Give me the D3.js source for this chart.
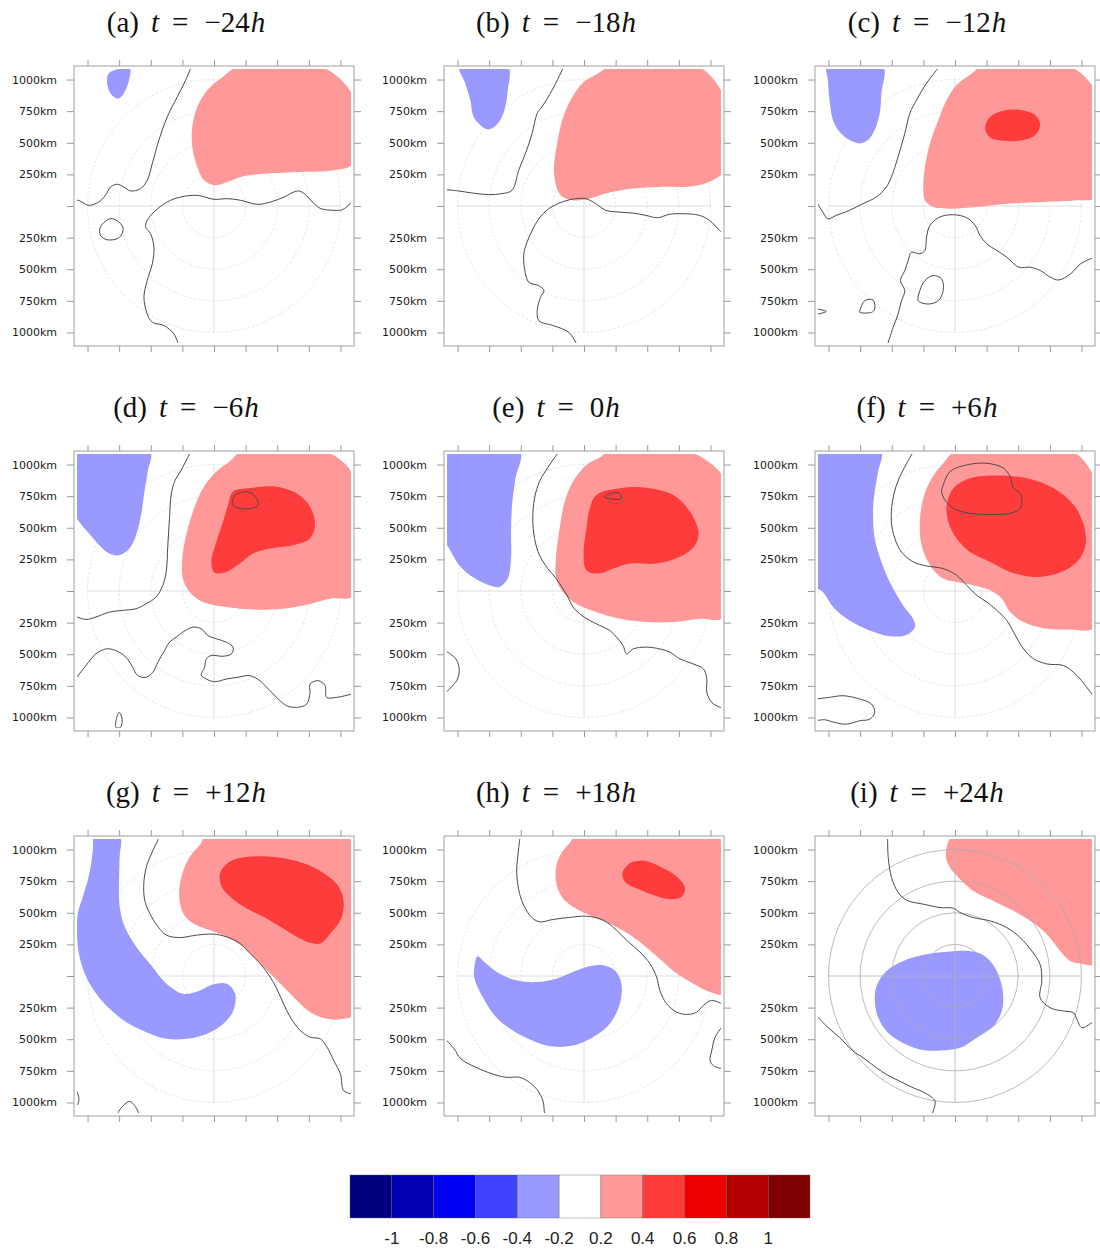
<!DOCTYPE html>
<html>
<head>
<meta charset="utf-8">
<script src="https://cdn.jsdelivr.net/npm/d3@7"></script>
<style>
body { margin: 0; background: #fff; }
svg { display: block; }
</style>
</head>
<body>
<div id="chart"></div>
<script>
// Tick values / rings (km from storm centre)
const tickKm = [-1000, -750, -500, -250, 0, 250, 500, 750, 1000];
const ringKm = [250, 500, 750, 1000];

// Panel labels and times
const letters = ['a', 'b', 'c', 'd', 'e', 'f', 'g', 'h', 'i'];
const times = ['\u221224', '\u221218', '\u221212', '\u22126', '0', '+6', '+12', '+18', '+24'];

// Colour bar
const legendBreaks = [-1, -0.8, -0.6, -0.4, -0.2, 0.2, 0.4, 0.6, 0.8, 1];
const legendColors = ['#00007f', '#0000b2', '#0000f2', '#4040ff', '#9999ff', '#ffffff',
    '#ff9999', '#ff3c3c', '#ee0000', '#b20000', '#7f0000'];

// ---- shapes, [x km, y km] ----
// (a)
const pinkA = [[211,1110],[832,1110],[1110,850],[1110,341],[950,282],[686,269],[422,256],[211,230],[106,190],[0,164],[-79,203],[-132,309],[-172,467],[-172,626],[-132,784],[-53,916],[53,1008]];
const blueA = [[-820,1060],[-740,1085],[-665,1085],[-672,995],[-700,916],[-740,858],[-766,850],[-818,890],[-845,969],[-840,1035]];
const linesA = [
    [[-180,1100],[-224,995],[-290,863],[-370,705],[-436,520],[-488,335],[-528,203],[-581,137],[-660,119],[-713,150],[-766,172],[-818,150],[-858,84],[-911,32],[-990,5],[-1060,40],[-1100,50]],
    [[-280,-1100],[-317,-1011],[-396,-945],[-488,-919],[-528,-853],[-554,-721],[-528,-589],[-488,-457],[-475,-325],[-502,-219],[-541,-166],[-528,-114],[-475,-48],[-370,32],[-264,71],[-132,84],[0,53],[106,58],[211,45],[343,13],[449,32],[554,71],[660,119],[713,98],[792,18],[845,-21],[950,-34],[1016,-29],[1082,24],[1100,40]]
];
const loopsA = [[[-898,-166],[-818,-100],[-752,-127],[-718,-180],[-752,-251],[-845,-267],[-898,-232]]];

// (b)
const pinkB = [[225,1110],[886,1110],[1058,957],[1110,838],[1110,283],[1018,204],[860,156],[595,151],[384,138],[172,98],[40,58],[-93,45],[-185,85],[-225,177],[-238,309],[-212,495],[-172,680],[-106,838],[-13,971],[93,1037]];
const blueB = [[-985,1110],[-605,1110],[-606,891],[-622,786],[-661,680],[-727,614],[-767,606],[-820,640],[-873,706],[-899,838],[-939,971]];
const linesB = [
    [[-160,1100],[-251,918],[-331,786],[-370,733],[-410,574],[-463,415],[-516,283],[-569,124],[-648,98],[-754,90],[-886,103],[-992,119],[-1100,130]],
    [[-55,-1100],[-119,-1000],[-238,-947],[-357,-907],[-370,-828],[-344,-722],[-317,-669],[-357,-630],[-436,-603],[-468,-510],[-476,-378],[-450,-286],[-410,-193],[-357,-101],[-278,-21],[-172,32],[-66,58],[13,58],[93,19],[172,-34],[278,-48],[384,-56],[489,-74],[582,-93],[674,-66],[780,-61],[913,-74],[992,-114],[1071,-193],[1100,-220]]
];

// (c)
const pinkC = [[225,1110],[886,1110],[1071,971],[1110,838],[1110,71],[965,45],[701,32],[436,19],[172,-8],[-40,-21],[-172,-8],[-238,45],[-251,151],[-238,309],[-198,495],[-132,680],[-66,838],[13,957],[119,1037]];
const deepC = [[238,614],[278,706],[384,754],[516,759],[635,719],[674,640],[635,561],[542,521],[384,516],[278,542]];
const blueC = [[-1010,1110],[-572,1110],[-582,891],[-595,733],[-635,600],[-688,521],[-754,495],[-833,521],[-913,587],[-965,680],[-992,838],[-1005,997]];
const linesC = [
    [[-125,1100],[-225,971],[-304,838],[-357,733],[-397,574],[-450,389],[-503,230],[-542,151],[-622,71],[-727,19],[-833,-34],[-939,-74],[-1005,-101],[-1045,-48],[-1100,40]],
    [[-535,-1100],[-489,-960],[-450,-854],[-423,-749],[-397,-669],[-431,-590],[-397,-510],[-370,-431],[-344,-365],[-278,-378],[-238,-352],[-225,-246],[-198,-153],[-119,-87],[-13,-69],[93,-93],[159,-153],[198,-233],[251,-299],[331,-352],[410,-405],[503,-484],[595,-484],[674,-510],[754,-563],[820,-585],[913,-537],[992,-458],[1071,-418],[1100,-410]],
    [[-1100,-812],[-1018,-834],[-1100,-858]]
];
const loopsC = [
    [[-278,-669],[-238,-590],[-172,-550],[-106,-577],[-93,-669],[-132,-749],[-212,-775],[-291,-749]],
    [[-754,-835],[-714,-749],[-648,-743],[-635,-815],[-661,-841],[-754,-841]]
];

// (d)
const pinkD = [[230,1110],[865,1110],[1077,957],[1110,838],[1110,-34],[918,-61],[706,-114],[495,-145],[283,-145],[98,-127],[-87,-87],[-193,-8],[-246,98],[-251,257],[-220,442],[-167,627],[-87,812],[19,944],[124,1024]];
const deepD = [[151,786],[309,817],[495,825],[653,772],[759,667],[799,521],[759,415],[627,362],[442,336],[309,296],[204,217],[98,151],[5,145],[-21,230],[19,389],[71,548],[111,680]];
const blueD = [[-1110,1110],[-508,1110],[-524,944],[-550,786],[-577,600],[-616,442],[-669,336],[-749,283],[-828,296],[-907,362],[-1000,468],[-1066,548],[-1110,627]];
const linesD = [
    [[-185,1100],[-259,957],[-312,865],[-339,759],[-352,574],[-365,362],[-378,151],[-405,45],[-458,-48],[-537,-101],[-616,-140],[-722,-153],[-828,-167],[-934,-206],[-1013,-225],[-1100,-198]],
    [[-1100,-700],[-1013,-590],[-934,-497],[-854,-458],[-775,-471],[-696,-524],[-643,-603],[-603,-669],[-537,-682],[-484,-643],[-444,-563],[-391,-471],[-352,-405],[-299,-365],[-246,-325],[-167,-286],[-101,-299],[-48,-352],[19,-378],[98,-405],[151,-444],[138,-497],[71,-516],[-21,-510],[-61,-537],[-74,-603],[-101,-664],[-61,-696],[5,-717],[98,-696],[190,-682],[283,-669],[362,-709],[442,-788],[508,-854],[574,-907],[653,-920],[733,-894],[759,-801],[759,-735],[825,-709],[878,-749],[891,-841],[971,-841],[1100,-812]]
];
const loopsD = [
    [[151,733],[190,772],[283,780],[336,733],[349,680],[296,653],[204,653],[151,680]],
    [[-775,-1079],[-765,-987],[-749,-960],[-727,-1013],[-740,-1079]]
];

// (e)
const pinkE = [[204,1110],[812,1110],[1071,944],[1110,838],[1110,-206],[918,-220],[706,-246],[495,-246],[283,-220],[98,-167],[-61,-101],[-167,-8],[-220,98],[-220,283],[-193,495],[-153,706],[-87,865],[19,997],[124,1055]];
const deepE = [[98,759],[283,812],[495,817],[706,759],[838,627],[905,468],[878,362],[759,270],[574,217],[362,217],[230,177],[124,138],[19,164],[-3,309],[19,495],[45,653]];
const blueE = [[-1110,1110],[-508,1110],[-542,891],[-569,680],[-577,468],[-577,257],[-603,98],[-669,32],[-749,45],[-881,111],[-987,204],[-1066,336],[-1110,415]];
const linesE = [
    [[-200,1100],[-272,997],[-352,865],[-391,733],[-405,574],[-391,415],[-352,283],[-286,177],[-220,98],[-167,19],[-127,-48],[-87,-127],[-34,-180],[45,-233],[124,-272],[204,-312],[257,-365],[309,-431],[336,-497],[389,-458],[495,-444],[600,-458],[680,-484],[759,-537],[865,-577],[944,-616],[971,-696],[971,-801],[1010,-881],[1077,-920],[1100,-925]],
    [[-1100,-470],[-1013,-537],[-987,-616],[-1000,-696],[-1039,-749],[-1100,-810]]
];
const loopsE = [[[164,745],[220,775],[283,772],[296,733],[230,725]]];

// (f)
const pinkF = [[13,1110],[913,1110],[1071,957],[1110,838],[1110,-286],[913,-304],[701,-294],[542,-246],[436,-167],[370,-61],[278,5],[145,45],[13,71],[-93,98],[-198,204],[-264,362],[-278,548],[-251,733],[-185,891],[-93,1010]];
const deepF = [[-66,680],[-13,812],[119,891],[331,913],[569,891],[780,812],[939,680],[1018,521],[1032,362],[965,230],[807,138],[622,111],[436,151],[278,230],[119,309],[13,415],[-53,548]];
const blueF = [[-1110,1110],[-588,1110],[-608,944],[-635,786],[-648,627],[-635,415],[-582,230],[-503,45],[-410,-114],[-331,-220],[-317,-286],[-384,-347],[-516,-357],[-674,-312],[-833,-233],[-952,-140],[-1045,-8],[-1110,45]];
const linesF = [
    [[-330,1100],[-410,957],[-463,838],[-495,706],[-503,548],[-476,415],[-423,309],[-331,230],[-225,198],[-93,177],[13,124],[93,45],[172,-34],[251,-87],[331,-153],[410,-233],[463,-325],[542,-458],[622,-537],[727,-577],[860,-590],[965,-669],[1032,-749],[1100,-840]],
    [[-1100,-854],[-992,-841],[-886,-828],[-754,-854],[-661,-894],[-635,-960],[-674,-1013],[-754,-1026],[-860,-1053],[-952,-1039],[-1032,-1018],[-1100,-1026]]
];
const loopsF = [[[-93,838],[-40,944],[93,997],[251,1010],[384,971],[436,905],[463,812],[516,772],[529,719],[516,653],[436,614],[278,606],[119,614],[-13,653],[-79,719],[-106,786]]];

// (g)
const pinkG = [[-58,1110],[1026,1110],[1110,1037],[1110,944],[1110,-299],[1026,-339],[894,-339],[762,-286],[656,-193],[550,-87],[444,19],[339,124],[233,230],[101,309],[-32,362],[-164,415],[-243,495],[-275,627],[-257,786],[-190,944],[-111,1037]];
const deepG = [[48,812],[127,905],[286,944],[497,939],[709,891],[868,812],[987,706],[1026,574],[1000,442],[920,336],[841,257],[762,262],[656,309],[524,389],[391,468],[259,534],[127,627],[61,706]];
const blueG = [[-746,1110],[-746,944],[-751,759],[-746,548],[-706,389],[-614,230],[-508,98],[-376,-61],[-243,-140],[-111,-114],[-5,-66],[101,-61],[167,-140],[153,-272],[74,-378],[-58,-458],[-217,-497],[-376,-497],[-534,-444],[-693,-365],[-825,-259],[-931,-140],[-1010,-8],[-1063,151],[-1084,336],[-1077,495],[-1037,627],[-997,759],[-971,891],[-957,1010],[-944,1110]];
const linesG = [
    [[-430,1100],[-481,997],[-534,865],[-555,733],[-548,600],[-508,495],[-442,389],[-376,323],[-270,304],[-138,323],[-5,331],[101,309],[206,257],[286,177],[365,98],[444,-8],[497,-101],[550,-220],[603,-325],[682,-431],[762,-484],[841,-497],[894,-563],[947,-669],[1000,-775],[1026,-907],[1100,-934]],
    [[-772,-1100],[-719,-1026],[-667,-992],[-627,-1026],[-587,-1100]],
    [[-1100,-880],[-1069,-960],[-1077,-1013],[-1100,-1030]]
];

// (h)
const pinkH = [[-61,1110],[1077,1110],[1110,997],[1110,-140],[997,-127],[865,-61],[733,19],[627,111],[521,204],[389,309],[230,402],[71,468],[-87,548],[-167,614],[-220,733],[-220,865],[-180,971],[-114,1050]];
const deepH = [[304,812],[362,891],[468,913],[600,865],[733,786],[799,693],[772,627],[680,606],[548,640],[415,693],[323,746]];
const blueH = [[-841,156],[-775,98],[-669,19],[-537,-34],[-378,-48],[-220,-21],[-87,32],[45,77],[151,85],[243,45],[296,-61],[283,-220],[204,-378],[71,-484],[-87,-550],[-246,-558],[-405,-511],[-563,-431],[-696,-325],[-801,-167],[-868,-8],[-860,111]];
const linesH = [
    [[-505,1100],[-524,944],[-532,812],[-510,653],[-471,548],[-418,468],[-352,428],[-246,447],[-114,463],[19,473],[151,442],[257,362],[336,283],[442,190],[521,98],[574,-8],[600,-114],[653,-220],[733,-286],[812,-304],[891,-286],[944,-233],[1010,-193],[1100,-225]],
    [[1100,-390],[1037,-484],[1010,-590],[997,-669],[1023,-709],[1100,-735]],
    [[-1100,-495],[-1026,-577],[-973,-656],[-854,-722],[-722,-775],[-616,-801],[-510,-801],[-431,-841],[-365,-907],[-325,-987],[-312,-1100]]
];

// (i)
const pinkI = [[-13,1110],[1110,1110],[1110,98],[990,98],[911,119],[832,198],[726,330],[594,436],[462,515],[304,594],[145,673],[40,766],[-40,858],[-71,937],[-66,1016]];
const blueI = [[-620,-79],[-541,40],[-409,119],[-224,172],[-40,193],[145,193],[251,145],[330,40],[378,-119],[370,-277],[304,-396],[172,-488],[40,-568],[-119,-589],[-277,-581],[-436,-515],[-541,-436],[-607,-330],[-634,-198]];
const linesI = [
    [[-533,1100],[-528,937],[-502,779],[-449,660],[-383,599],[-251,568],[-119,541],[-13,536],[40,502],[145,462],[277,436],[409,383],[515,304],[607,198],[673,92],[686,-40],[673,-172],[752,-251],[858,-277],[937,-290],[964,-343],[1003,-409],[1082,-370],[1100,-362]],
    [[-1100,-310],[-1016,-396],[-911,-488],[-805,-594],[-726,-647],[-620,-726],[-541,-779],[-436,-832],[-330,-884],[-238,-924],[-158,-990],[-185,-1100]]
];

const panels = [
    { pink: [pinkA], deep: [], blue: [blueA], lines: linesA, loops: loopsA },
    { pink: [pinkB], deep: [], blue: [blueB], lines: linesB, loops: [] },
    { pink: [pinkC], deep: [deepC], blue: [blueC], lines: linesC, loops: loopsC },
    { pink: [pinkD], deep: [deepD], blue: [blueD], lines: linesD, loops: loopsD },
    { pink: [pinkE], deep: [deepE], blue: [blueE], lines: linesE, loops: loopsE },
    { pink: [pinkF], deep: [deepF], blue: [blueF], lines: linesF, loops: loopsF },
    { pink: [pinkG], deep: [deepG], blue: [blueG], lines: linesG, loops: [] },
    { pink: [pinkH], deep: [deepH], blue: [blueH], lines: linesH, loops: [] },
    { pink: [pinkI], deep: [], blue: [blueI], lines: linesI, loops: [] }
];

const width = 1100, height = 1250;
const frameSize = 280;
const colLeft = [74, 444, 815];
const rowTop = [66, 451, 836];

const svg = d3.select('#chart')
    .append('svg')
    .attr('width', width)
    .attr('height', height);

const x = d3.scaleLinear().domain([-1107, 1107]).range([0, frameSize]);
const y = d3.scaleLinear().domain([-1107, 1107]).range([frameSize, 0]);

const blob = d3.line()
    .x(d => x(d[0]))
    .y(d => y(d[1]))
    .curve(d3.curveCatmullRomClosed.alpha(0.5));
const contour = d3.line()
    .x(d => x(d[0]))
    .y(d => y(d[1]))
    .curve(d3.curveCatmullRom.alpha(0.5));

// data area is a bit smaller than the frame
svg.append('defs').append('clipPath')
    .attr('id', 'data-clip')
    .append('rect')
    .attr('x', x(-1083))
    .attr('y', y(1083))
    .attr('width', x(1083) - x(-1083))
    .attr('height', y(-1083) - y(1083));

const drawGrid = (g, solid) => {
    const grid = g.append('g').attr('class', 'grid');
    grid.selectAll('circle')
        .data(ringKm)
        .join('circle')
        .attr('cx', x(0))
        .attr('cy', y(0))
        .attr('r', d => x(d) - x(0))
        .attr('fill', 'none')
        .attr('stroke', solid ? '#ababab' : '#dadada')
        .attr('stroke-width', solid ? 0.8 : 0.7)
        .attr('stroke-dasharray', solid ? null : '2.5,2');
    grid.append('line')
        .attr('x1', x(-1000)).attr('x2', x(1000))
        .attr('y1', y(0)).attr('y2', y(0));
    grid.append('line')
        .attr('x1', x(0)).attr('x2', x(0))
        .attr('y1', y(1000)).attr('y2', y(-1000));
    grid.selectAll('line')
        .attr('stroke', solid ? '#b4b4b4' : '#d6d6d6')
        .attr('stroke-width', 0.8);
};

panels.forEach((p, i) => {
    const g = svg.append('g')
        .attr('transform', `translate(${colLeft[i % 3]},${rowTop[Math.floor(i / 3)]})`);
    const solidGrid = letters[i] === 'i';

    if (!solidGrid) drawGrid(g, false);

    const data = g.append('g').attr('clip-path', 'url(#data-clip)');
    data.selectAll('path.pink').data(p.pink).join('path')
        .attr('class', 'pink').attr('d', blob).attr('fill', legendColors[6]);
    data.selectAll('path.deep').data(p.deep).join('path')
        .attr('class', 'deep').attr('d', blob).attr('fill', legendColors[7]);
    data.selectAll('path.blue').data(p.blue).join('path')
        .attr('class', 'blue').attr('d', blob).attr('fill', legendColors[4]);

    if (solidGrid) drawGrid(data, true);

    data.selectAll('path.line').data(p.lines).join('path')
        .attr('class', 'line').attr('d', contour)
        .attr('fill', 'none').attr('stroke', '#4a4a4a').attr('stroke-width', 1);
    data.selectAll('path.loop').data(p.loops).join('path')
        .attr('class', 'loop').attr('d', blob)
        .attr('fill', 'none').attr('stroke', '#4a4a4a').attr('stroke-width', 1);

    // frame and ticks
    g.append('rect')
        .attr('width', frameSize).attr('height', frameSize)
        .attr('fill', 'none').attr('stroke', '#a0a0a0').attr('stroke-width', 1);

    const axes = [
        g.append('g').call(d3.axisLeft(y).tickValues(tickKm).tickSize(7).tickPadding(10)
            .tickFormat(d => d === 0 ? '' : Math.abs(d) + 'km')),
        g.append('g').attr('transform', `translate(${frameSize},0)`)
            .call(d3.axisRight(y).tickValues(tickKm).tickSize(7).tickFormat('')),
        g.append('g').call(d3.axisTop(x).tickValues(tickKm).tickSize(6).tickFormat('')),
        g.append('g').attr('transform', `translate(0,${frameSize})`)
            .call(d3.axisBottom(x).tickValues(tickKm).tickSize(6).tickFormat(''))
    ];
    axes.forEach(a => {
        a.select('.domain').remove();
        a.selectAll('.tick line').attr('stroke', '#9a9a9a');
        a.selectAll('.tick text')
            .attr('fill', '#1a1a1a')
            .style('font-family', '"DejaVu Sans", sans-serif')
            .style('font-size', '11px');
    });

    // title
    const title = g.append('text')
        .attr('x', frameSize / 2 - 28)
        .attr('y', -34)
        .attr('text-anchor', 'middle')
        .attr('fill', '#111')
        .style('font-family', '"Liberation Serif", "DejaVu Serif", serif')
        .style('font-size', '29px');
    title.append('tspan').text(`(${letters[i]})`);
    title.append('tspan').attr('dx', 12).style('font-style', 'italic').text('t');
    title.append('tspan').attr('dx', 13).text('=');
    title.append('tspan').attr('dx', 16).text(times[i]);
    title.append('tspan').attr('dx', 1).style('font-style', 'italic').text('h');
});

// colour bar
const lx = d3.scaleLinear().domain([0, legendColors.length]).range([350, 810]);
const legend = svg.append('g');
legend.selectAll('rect')
    .data(legendColors)
    .join('rect')
    .attr('x', (d, i) => lx(i))
    .attr('y', 1175)
    .attr('width', (d, i) => lx(i + 1) - lx(i))
    .attr('height', 43)
    .attr('fill', d => d)
    .attr('stroke', '#666')
    .attr('stroke-width', 0.4);
legend.selectAll('text')
    .data(legendBreaks)
    .join('text')
    .attr('x', (d, i) => lx(i + 1))
    .attr('y', 1244)
    .attr('text-anchor', 'middle')
    .attr('fill', '#222')
    .style('font-family', '"Liberation Sans", Arial, sans-serif')
    .style('font-size', '17px')
    .text(d => d);
</script>
</body>
</html>
